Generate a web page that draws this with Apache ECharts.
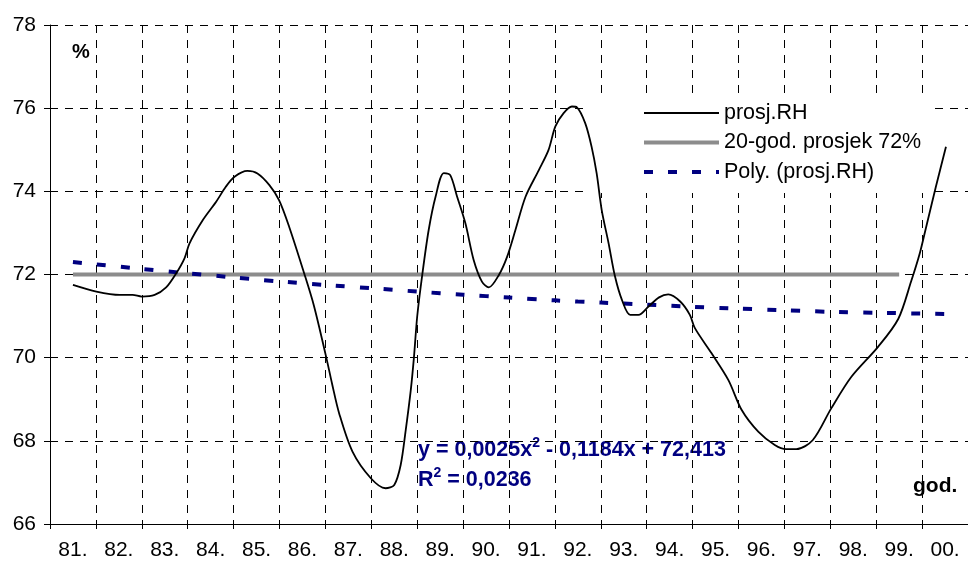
<!DOCTYPE html>
<html>
<head>
<meta charset="utf-8">
<script src="https://cdn.jsdelivr.net/npm/echarts@6/dist/echarts.min.js"></script>
<style>
html,body{margin:0;padding:0;background:#fff;}
#chart{width:968px;height:563px;}
</style>
</head>
<body>
<div id="chart"></div>
<script>
// Category labels (years)
var categories = ['81.','82.','83.','84.','85.','86.','87.','88.','89.','90.','91.','92.','93.','94.','95.','96.','97.','98.','99.','00.'];
var yTicks = [66, 68, 70, 72, 74, 76, 78];

// prosj.RH curve: position (year index, 1 = 81.) and value (%)
var rhX = [1.0, 1.51, 2.02, 2.30, 2.50, 2.78, 3.03, 3.25, 3.43, 3.54, 3.83, 4.12, 4.33, 4.52, 4.80, 5.02, 5.28, 5.49, 5.71, 6.04, 6.25, 6.51, 6.65, 6.80, 7.09, 7.49, 7.81, 8.00, 8.14, 8.25, 8.36, 8.43, 8.50, 8.61, 8.75, 8.90, 9.08, 9.22, 9.37, 9.55, 9.73, 9.91, 10.06, 10.28, 10.46, 10.64, 10.86, 11.15, 11.36, 11.51, 11.69, 11.87, 11.98, 12.16, 12.30, 12.41, 12.52, 12.67, 12.81, 12.96, 13.14, 13.32, 13.54, 13.77, 13.97, 14.23, 14.44, 14.55, 14.91, 15.28, 15.57, 15.93, 16.29, 16.54, 16.76, 17.12, 17.52, 17.96, 18.54, 18.98, 19.26, 19.45, 19.59, 19.80, 20.02];
var rhY = [71.75, 71.59, 71.51, 71.51, 71.47, 71.51, 71.69, 72.03, 72.39, 72.75, 73.31, 73.75, 74.11, 74.35, 74.49, 74.43, 74.15, 73.79, 73.15, 72.02, 71.25, 70.05, 69.35, 68.66, 67.74, 67.10, 66.86, 66.94, 67.42, 68.26, 69.22, 70.02, 70.99, 71.99, 73.07, 73.87, 74.44, 74.39, 73.87, 73.23, 72.35, 71.83, 71.69, 71.99, 72.43, 73.07, 73.87, 74.51, 74.99, 75.56, 75.88, 76.04, 76.02, 75.64, 75.07, 74.43, 73.55, 72.75, 71.95, 71.39, 71.03, 71.03, 71.23, 71.45, 71.52, 71.35, 71.03, 70.71, 70.11, 69.46, 68.74, 68.22, 67.90, 67.80, 67.80, 68.02, 68.78, 69.54, 70.26, 70.93, 71.83, 72.51, 73.15, 74.11, 75.07];

// 20-year average (72%)
var avg20 = [72,72,72,72,72,72,72,72,72,72,72,72,72,72,72,72,72,72,72,null];

// Polynomial trend values per year
var polyTrend = [72.30, 72.19, 72.08, 71.98, 71.88, 71.79, 71.71, 71.63, 71.55, 71.48, 71.41, 71.35, 71.30, 71.25, 71.20, 71.16, 71.12, 71.09, 71.07, 71.05];

var seriesNames = ['prosj.RH', '20-god. prosjek 72%', 'Poly. (prosj.RH)'];

var rhData = rhX.map(function (x, i) { return [x, rhY[i]]; });

var FONT = 'Liberation Sans, Arial, sans-serif';
var chart = echarts.init(document.getElementById('chart'), null, {renderer: 'canvas'});
chart.setOption({
  animation: false,
  backgroundColor: '#ffffff',
  grid: {left: 50, top: 25, width: 920, height: 499, containLabel: false},
  legend: {
    orient: 'vertical',
    left: 588, top: 95,
    padding: [7, 12, 10, 54],
    itemGap: 7.5,
    itemWidth: 75, itemHeight: 14,
    backgroundColor: '#ffffff',
    itemStyle: {opacity: 0},
    lineStyle: {width: 'inherit', type: 'inherit', color: 'inherit'},
    textStyle: {fontFamily: FONT, fontSize: 21.5, color: '#000'},
    data: seriesNames
  },
  xAxis: [{
    type: 'category',
    data: categories,
    boundaryGap: true,
    axisLine: {show: true, lineStyle: {color: '#000', width: 1}},
    axisTick: {show: true, length: 5, lineStyle: {color: '#000'}},
    axisLabel: {fontFamily: FONT, fontSize: 21, color: '#000', margin: 16},
    splitLine: {show: true, lineStyle: {color: '#000', width: 1, type: [8, 7]}}
  }, {
    type: 'value',
    min: 0.5, max: 20.5,
    show: false
  }],
  yAxis: {
    type: 'value',
    min: yTicks[0], max: yTicks[yTicks.length - 1], interval: 2,
    axisLine: {show: true, lineStyle: {color: '#000', width: 1}},
    axisTick: {show: true, length: 6, lineStyle: {color: '#000'}},
    axisLabel: {fontFamily: FONT, fontSize: 21, color: '#000', margin: 14},
    splitLine: {show: true, lineStyle: {color: '#000', width: 1, type: [8, 7]}}
  },
  series: [{
    name: seriesNames[0],
    type: 'line',
    xAxisIndex: 1,
    data: rhData,
    smooth: 0.3,
    symbol: 'none',
    lineStyle: {color: '#000', width: 1.8},
    itemStyle: {color: '#000'},
    z: 5
  }, {
    name: seriesNames[1],
    type: 'line',
    xAxisIndex: 0,
    data: avg20,
    symbol: 'none',
    lineStyle: {color: '#8c8c8c', width: 4},
    itemStyle: {color: '#8c8c8c'},
    z: 3
  }, {
    name: seriesNames[2],
    type: 'line',
    xAxisIndex: 0,
    data: polyTrend,
    smooth: true,
    symbol: 'none',
    lineStyle: {color: '#000080', width: 4, type: [9, 15], cap: 'butt'},
    itemStyle: {color: '#000080'},
    z: 4
  }],
  graphic: [{
    type: 'text', left: 72, top: 42,
    style: {text: '%', font: 'bold 20px ' + FONT, fill: '#000'}
  }, {
    type: 'text', left: 913, top: 476,
    style: {text: 'god.', font: 'bold 21px ' + FONT, fill: '#000'}
  }, {
    type: 'text', left: 418, top: 436,
    style: {
      text: '{t|y = 0,0025x}{s|2}{t| - 0,1184x + 72,413}',
      rich: {
        t: {font: 'bold 21.5px ' + FONT, fill: '#000080', verticalAlign: 'bottom', lineHeight: 25},
        s: {font: 'bold 14px ' + FONT, fill: '#000080', verticalAlign: 'top', lineHeight: 25, padding: [0, 0, 10, 0]}
      }
    }
  }, {
    type: 'text', left: 418, top: 466,
    style: {
      text: '{t|R}{s|2}{t| = 0,0236}',
      rich: {
        t: {font: 'bold 21.5px ' + FONT, fill: '#000080', verticalAlign: 'bottom', lineHeight: 25},
        s: {font: 'bold 14px ' + FONT, fill: '#000080', verticalAlign: 'top', lineHeight: 25, padding: [0, 0, 10, 0]}
      }
    }
  }]
});
</script>
</body>
</html>
